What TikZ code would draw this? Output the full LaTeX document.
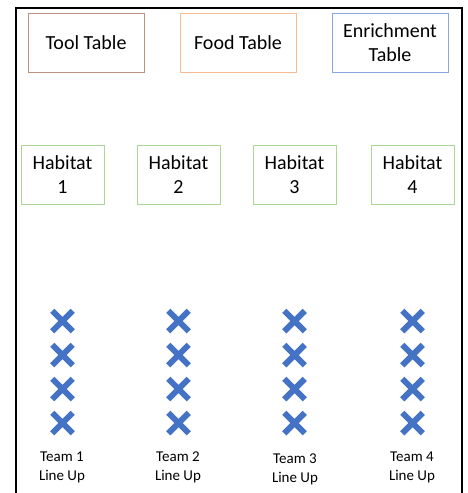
\documentclass[tikz,border=0pt]{standalone}
\usepackage{fontspec}
\setmainfont{Carlito}
\usetikzlibrary{positioning,shapes.misc}
\definecolor{toolbrown}{RGB}{186,146,128}
\definecolor{foodorange}{RGB}{248,188,146}
\definecolor{enrichblue}{RGB}{138,168,224}
\definecolor{habgreen}{RGB}{172,214,150}
\definecolor{markblue}{RGB}{68,114,196}

\begin{document}
\begin{tikzpicture}[
         x = 1pt, y = -1pt,
TableBox/.style={draw, line width=1pt, minimum width=116pt, minimum height=59pt,
                 align=center, font=\fontsize{20}{24}\selectfont, inner sep=0pt},
HabBox/.style={draw=habgreen, line width=1pt, minimum width=83pt, minimum height=59pt,
               align=center, font=\fontsize{20}{24.5}\selectfont, inner sep=0pt},
MarkX/.style={cross out, draw=markblue, line width=6pt, minimum size=14.5pt,
              inner sep=0pt},
TeamLabel/.style={align=center, font=\fontsize{15}{19}\selectfont, inner sep=0pt},
  ]
\useasboundingbox (0,0) rectangle (467,493);
% room outline
\draw[line width=2.5pt] (16,493) |- (462,8) -- (462,493);
% tables
\node [TableBox, draw=toolbrown] (tool) at (86,42.5) {Tool Table};
\node [TableBox, draw=foodorange] (food) at (238,42.5) {Food Table};
\node [TableBox, draw=enrichblue] (enrich) at (390,42.5) {Enrichment\\Table};
% habitats, team line ups
\foreach \i/\x in {1/62.5, 2/178.5, 3/294.5, 4/412.5} {
  \node [HabBox] (hab\i) at (\x,174.5) {Habitat\\\i};
  \foreach \r [count=\k] in {321,355,389,423}
    \node [MarkX] (mark\i-\k) at (\x,\r) {};
}
\node [TeamLabel] (team1) at (62,467) {Team 1\\Line Up};
\node [TeamLabel] (team2) at (178,467) {Team 2\\Line Up};
\node [TeamLabel] (team3) at (295,469) {Team 3\\Line Up};
\node [TeamLabel] (team4) at (412,467) {Team 4\\Line Up};
\end{tikzpicture}
\end{document}
